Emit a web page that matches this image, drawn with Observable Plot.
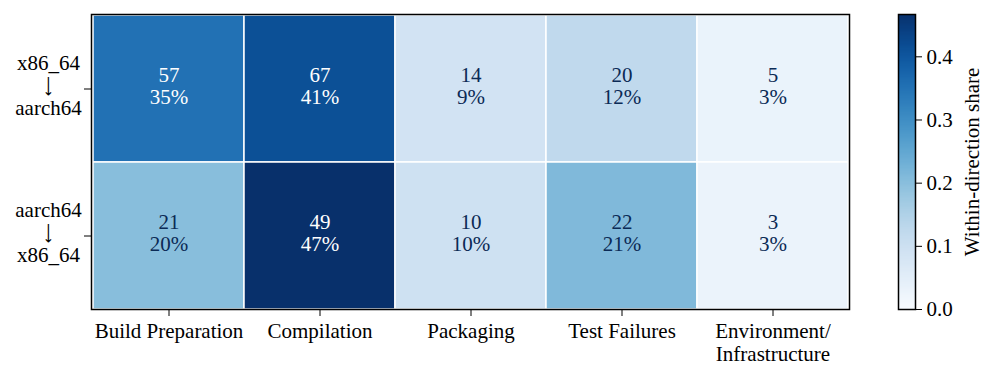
<!DOCTYPE html>
<html>
<head>
<meta charset="utf-8">
<script src="https://cdn.jsdelivr.net/npm/d3@7"></script>
<script src="https://cdn.jsdelivr.net/npm/@observablehq/plot@0.6"></script>
<style>
  html, body { margin: 0; padding: 0; background: #fff; }
  #wrap { position: relative; width: 996px; height: 380px; overflow: hidden; }
  #wrap svg { position: absolute; top: 0; overflow: visible; }
</style>
</head>
<body>
<div id="wrap"></div>
<script>
const categories = ["Build Preparation", "Compilation", "Packaging", "Test Failures", "Environment/\nInfrastructure"];
const directions = ["x86_64 → aarch64", "aarch64 → x86_64"];
const directionFrom = ["x86_64", "aarch64"];
const directionTo = ["aarch64", "x86_64"];
const countsX86ToArm = [57, 67, 14, 20, 5];
const countsArmToX86 = [21, 49, 10, 22, 3];
const sharesX86ToArm = [0.350, 0.411, 0.086, 0.123, 0.031];
const sharesArmToX86 = [0.200, 0.467, 0.095, 0.210, 0.029];
const colorbarTicks = [0.0, 0.1, 0.2, 0.3, 0.4];
const colorbarLabel = "Within-direction share";
const shareMax = 0.467;

const cells = [];
categories.forEach((c, i) => {
  cells.push({cat: c, dir: directions[0], count: countsX86ToArm[i], share: sharesX86ToArm[i]});
  cells.push({cat: c, dir: directions[1], count: countsArmToX86[i], share: sharesArmToX86[i]});
});
const rowLabels = directions.map((d, i) => ({dir: d, from: directionFrom[i], to: directionTo[i]}));

const font = "'Liberation Serif', 'Times New Roman', serif";
const arrowFont = "'DejaVu Sans', sans-serif";
const colorScale = {type: "linear", scheme: "blues", domain: [0, shareMax]};

const main = Plot.plot({
  width: 996,
  height: 380,
  marginLeft: 91,
  marginRight: 147,
  marginTop: 14,
  marginBottom: 71,
  style: {fontFamily: font, fontSize: "21px", color: "black", background: "transparent"},
  x: {domain: categories, padding: 0, tickSize: 7, tickFormat: () => "", label: null},
  y: {domain: directions, padding: 0, tickSize: 7, tickFormat: () => "", label: null},
  color: colorScale,
  marks: [
    Plot.cell(cells, {x: "cat", y: "dir", fill: "share", stroke: "white", strokeWidth: 1.5}),
    Plot.text(cells, {
      x: "cat", y: "dir", dy: -3,
      text: d => `${d.count}\n${Math.round(d.share * 100)}%`,
      fill: d => d.share > 0.3 ? "white" : "#0b2a55",
      fontSize: 21, lineHeight: 1.05, fontFamily: font
    }),
    Plot.text(categories, {
      x: d => d, frameAnchor: "bottom", dy: 12, lineAnchor: "top",
      text: d => d, fontSize: 21, lineHeight: 1.1, fontFamily: font, fill: "black"
    }),
    Plot.text(rowLabels, {
      y: "dir", frameAnchor: "left", dx: -43, dy: -26, textAnchor: "middle",
      text: "from", fontSize: 21, fontFamily: font, fill: "black"
    }),
    Plot.text(rowLabels, {
      y: "dir", frameAnchor: "left", dx: -43, dy: -3, textAnchor: "middle", rotate: 90,
      text: () => "⟶", fontSize: 14, fontFamily: arrowFont, fill: "black"
    }),
    Plot.text(rowLabels, {
      y: "dir", frameAnchor: "left", dx: -43, dy: 19, textAnchor: "middle",
      text: "to", fontSize: 21, fontFamily: font, fill: "black"
    }),
    Plot.frame({stroke: "black", strokeWidth: 1.5})
  ]
});
main.style.left = "0px";
document.getElementById("wrap").appendChild(main);

const step = shareMax / 240;
const stops = d3.range(240).map(i => i * step);
const bar = Plot.plot({
  width: 98,
  height: 380,
  marginLeft: 0,
  marginRight: 81,
  marginTop: 14,
  marginBottom: 71,
  style: {fontFamily: font, fontSize: "21px", color: "black", background: "transparent", overflow: "visible"},
  x: {domain: [0, 1], axis: null},
  y: {domain: [0, shareMax], axis: "right", ticks: colorbarTicks, tickFormat: d3.format(".1f"), tickSize: 6, tickPadding: 5, label: null},
  color: colorScale,
  marks: [
    Plot.rect(stops, {x1: 0, x2: 1, y1: d => d, y2: d => Math.min(shareMax, d + step * 1.6), fill: d => d, shapeRendering: "crispEdges"}),
    Plot.text([colorbarLabel], {frameAnchor: "right", dx: 57, rotate: -90, textAnchor: "middle", lineAnchor: "middle", text: d => d, fontSize: 21, fontFamily: font, fill: "black"}),
    Plot.frame({stroke: "black", strokeWidth: 1.5})
  ]
});
bar.style.left = "898px";
document.getElementById("wrap").appendChild(bar);
</script>
</body>
</html>
